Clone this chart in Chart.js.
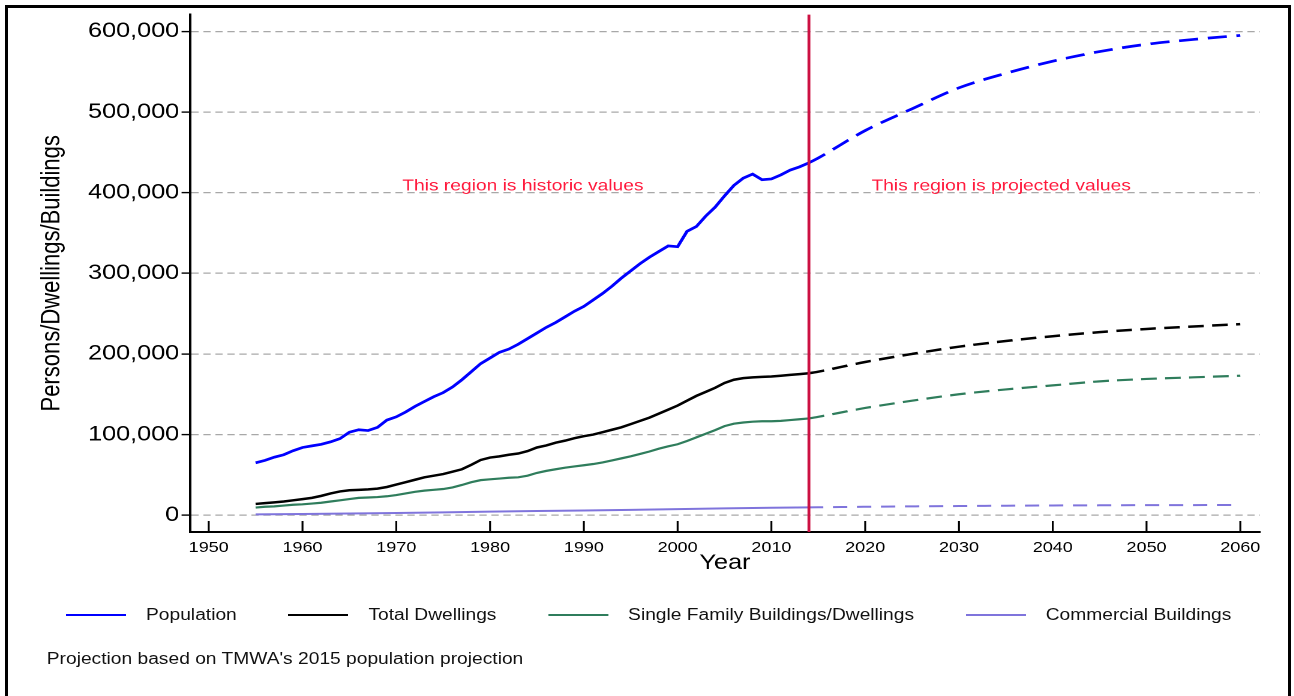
<!DOCTYPE html>
<html>
<head>
<meta charset="utf-8">
<title>Population and dwellings</title>
<script src="https://cdn.jsdelivr.net/npm/chart.js@4.4.1/dist/chart.umd.min.js"></script>
<style>
  html, body { margin: 0; padding: 0; background: #fff; }
  body { width: 1294px; height: 696px; overflow: hidden; position: relative; font-family: "Liberation Sans", Arial, sans-serif; }
  #frame { position: absolute; left: 5px; top: 5px; width: 1286px; height: 720px; border: 3px solid #000; box-sizing: border-box; }
  /* the source picture is stretched sideways, so the whole stage is too */
  #stage { position: absolute; left: 0; top: 0; width: 1078px; height: 696px; transform: scaleX(1.2); transform-origin: 0 0; }
  #chartBox { position: absolute; left: 0; top: 0; width: 1078px; height: 585px; }
  #legend { position: absolute; left: 55px; top: 604px; height: 22px; display: flex; align-items: center; font-size: 16px; color: #111; white-space: nowrap; }
  #legend .item { display: flex; align-items: center; margin-right: 43px; }
  #legend .swatch { width: 50px; height: 2px; margin-right: 16.7px; }
  #note { position: absolute; left: 39px; top: 650px; font-size: 16px; color: #111; white-space: nowrap; }
</style>
</head>
<body>
<div id="frame"></div>
<div id="stage">
  <div id="chartBox"><canvas id="popChart"></canvas></div>
  <div id="legend"></div>
  <div id="note">Projection based on TMWA's 2015 population projection</div>
</div>
<script>
// --- Data ---
const histYears = [
  1955, 1956, 1957, 1958, 1959, 1960, 1961, 1962, 1963, 1964,
  1965, 1966, 1967, 1968, 1969, 1970, 1971, 1972, 1973, 1974,
  1975, 1976, 1977, 1978, 1979, 1980, 1981, 1982, 1983, 1984,
  1985, 1986, 1987, 1988, 1989, 1990, 1991, 1992, 1993, 1994,
  1995, 1996, 1997, 1998, 1999, 2000, 2001, 2002, 2003, 2004,
  2005, 2006, 2007, 2008, 2009, 2010, 2011, 2012, 2013, 2014
];
const populationHist = [
  65000, 68000, 72000, 75000, 80000, 84000, 86000, 88000, 91000, 95000,
  103000, 106000, 105000, 109000, 118000, 122000, 128000, 135000, 141000, 147000,
  152000, 159000, 168000, 178000, 188000, 195000, 202000, 206000, 212000, 219000,
  226000, 233000, 239000, 246000, 253000, 259000, 267000, 275000, 284000, 294000,
  303000, 312000, 320000, 327000, 334000, 333000, 352000, 358000, 371000, 382000,
  396000, 409000, 418000, 423000, 416000, 417000, 422000, 428000, 432000, 437000
];
const dwellingsHist = [
  14000, 15000, 16000, 17000, 18500, 20000, 21500, 24000, 27000, 29500,
  31000, 31500, 32000, 33000, 35000, 38000, 41000, 44000, 47000, 49000,
  51000, 54000, 57000, 62500, 68500, 71500, 73000, 75000, 76500, 79500,
  84000, 86500, 90000, 92500, 95500, 98000, 100000, 103000, 106000, 109000,
  113000, 117000, 121000, 126000, 131000, 136000, 142000, 148000, 153000, 158000,
  164000, 168000, 170000, 171000, 171500, 172000, 173000, 174000, 175000, 176000
];
const singleFamilyHist = [
  9500, 10500, 11000, 12000, 13000, 13500, 14500, 15500, 17000, 18500,
  20000, 21500, 22000, 22500, 23500, 25000, 27000, 29000, 30500, 31500,
  32500, 34500, 37500, 41000, 43500, 44500, 45500, 46500, 47000, 49000,
  52500, 55000, 57000, 59000, 60500, 62000, 63500, 65500, 68000, 70500,
  73000, 76000, 79000, 82500, 85500, 88000, 92000, 96500, 101000, 105500,
  110500, 113500, 115000, 116000, 116500, 116500, 117000, 118000, 119000, 120000
];
const commercialHistYears = [1955, 1960, 1965, 1970, 1975, 1980, 1985, 1990, 1995, 2000, 2005, 2010, 2014];
const commercialHist = [1000, 1500, 2200, 2800, 3500, 4500, 5200, 5900, 6700, 7500, 8500, 9300, 9800];

const projYears = [2014, 2015, 2020, 2025, 2030, 2035, 2040, 2045, 2050, 2055, 2060];
const populationProj = [437000, 443000, 477000, 504000, 530000, 548000, 563000, 575000, 584000, 590000, 595000];
const dwellingsProj = [176000, 178000, 190000, 200000, 209000, 216000, 222000, 227000, 231000, 234000, 237000];
const singleFamilyProj = [120000, 122000, 133000, 142000, 150000, 156000, 161000, 166000, 169000, 171000, 173000];
const commercialProj = [9800, 9900, 10500, 11000, 11400, 11800, 12100, 12300, 12500, 12600, 12700];

const seriesNames = ["Population", "Total Dwellings", "Single Family Buildings/Dwellings", "Commercial Buildings"];
const seriesColors = ["#0000ff", "#000000", "#2f7d5c", "#7f74dc"];

const xTickValues = [1950, 1960, 1970, 1980, 1990, 2000, 2010, 2020, 2030, 2040, 2050, 2060];
const yTickValues = [0, 100000, 200000, 300000, 400000, 500000, 600000];
const splitYear = 2014;

// --- Helpers ---
const toPoints = (years, values) => years.map((yr, i) => ({ x: yr, y: values[i] }));

function histSet(i, years, values, width) {
  return {
    label: seriesNames[i],
    data: toPoints(years, values),
    borderColor: seriesColors[i],
    borderWidth: width,
    pointRadius: 0,
    tension: 0
  };
}

function projSet(i, values, width, dash) {
  return {
    label: seriesNames[i] + " (projected)",
    data: toPoints(projYears, values),
    borderColor: seriesColors[i],
    borderWidth: width,
    borderDash: dash,
    pointRadius: 0,
    cubicInterpolationMode: "monotone"
  };
}

// --- Split line, inner ticks and region notes ---
const regionNotes = [
  { text: "This region is historic values", year: 1983.5, value: 408000 },
  { text: "This region is projected values", year: 2034.5, value: 408000 }
];

const guides = {
  id: "guides",
  afterDatasetsDraw(chart) {
    const { ctx, chartArea, scales: { x, y } } = chart;
    ctx.save();
    ctx.strokeStyle = "#000";
    ctx.lineWidth = 1.6;
    xTickValues.forEach(v => {
      const px = x.getPixelForValue(v);
      ctx.beginPath();
      ctx.moveTo(px, chartArea.bottom);
      ctx.lineTo(px, chartArea.bottom - 11);
      ctx.stroke();
    });

    const sx = x.getPixelForValue(splitYear);
    ctx.strokeStyle = "#cc1042";
    ctx.lineWidth = 2.4;
    ctx.beginPath();
    ctx.moveTo(sx, chartArea.top);
    ctx.lineTo(sx, chartArea.bottom);
    ctx.stroke();

    ctx.fillStyle = "#ff1a3d";
    ctx.font = '16px "Liberation Sans", Arial, sans-serif';
    ctx.textAlign = "center";
    ctx.textBaseline = "middle";
    regionNotes.forEach(n => ctx.fillText(n.text, x.getPixelForValue(n.year), y.getPixelForValue(n.value)));
    ctx.restore();
  }
};

// --- Chart ---
Chart.defaults.font.family = '"Liberation Sans", Arial, sans-serif';
Chart.defaults.color = "#000";

const chart = new Chart(document.getElementById("popChart"), {
  type: "line",
  data: {
    datasets: [
      histSet(3, commercialHistYears, commercialHist, 2),
      projSet(3, commercialProj, 2, [12, 8]),
      histSet(2, histYears, singleFamilyHist, 2.2),
      projSet(2, singleFamilyProj, 2.2, [13, 7]),
      histSet(1, histYears, dwellingsHist, 2.5),
      projSet(1, dwellingsProj, 2.5, [13, 7]),
      histSet(0, histYears, populationHist, 2.7),
      projSet(0, populationProj, 2.7, [16, 8])
    ]
  },
  options: {
    responsive: true,
    maintainAspectRatio: false,
    devicePixelRatio: 2,
    animation: false,
    layout: { padding: { top: 8, right: 28, left: 0, bottom: 0 } },
    plugins: { legend: { display: false }, tooltip: { enabled: false } },
    scales: {
      x: {
        type: "linear",
        min: 1948,
        max: 2062.1,
        afterBuildTicks: scale => { scale.ticks = xTickValues.map(v => ({ value: v })); },
        afterFit: scale => { scale.height = 53; },
        grid: { display: false, drawTicks: false },
        border: { display: true, color: "#000", width: 2 },
        ticks: { font: { size: 15 }, color: "#000", padding: 7, maxRotation: 0, callback: v => String(v) },
        title: { display: true, text: "Year", font: { size: 21 }, color: "#000", padding: { top: 0, bottom: 9 } }
      },
      y: {
        min: -20800,
        max: 620800,
        afterBuildTicks: scale => { scale.ticks = yTickValues.map(v => ({ value: v })); },
        afterFit: scale => { scale.width = 158.3; },
        grid: {
          color: "#a8a8a8",
          lineWidth: 1.2,
          drawTicks: true,
          tickLength: 7,
          tickColor: "#000",
          tickWidth: 1.4,
          tickBorderDash: []
        },
        border: { display: true, color: "#000", width: 2, dash: [6, 4] },
        ticks: { font: { size: 21 }, color: "#000", padding: 2, callback: v => v.toLocaleString("en-US") },
        title: { display: true, text: "Persons/Dwellings/Buildings", font: { size: 22 }, color: "#000", padding: { top: 30, bottom: 0 } }
      }
    }
  },
  plugins: [guides]
});

// --- Legend ---
const legend = document.getElementById("legend");
seriesNames.forEach((name, i) => {
  const item = document.createElement("div");
  item.className = "item";
  item.innerHTML = `<span class="swatch" style="background:${seriesColors[i]}"></span><span>${name}</span>`;
  legend.appendChild(item);
});
</script>
</body>
</html>
